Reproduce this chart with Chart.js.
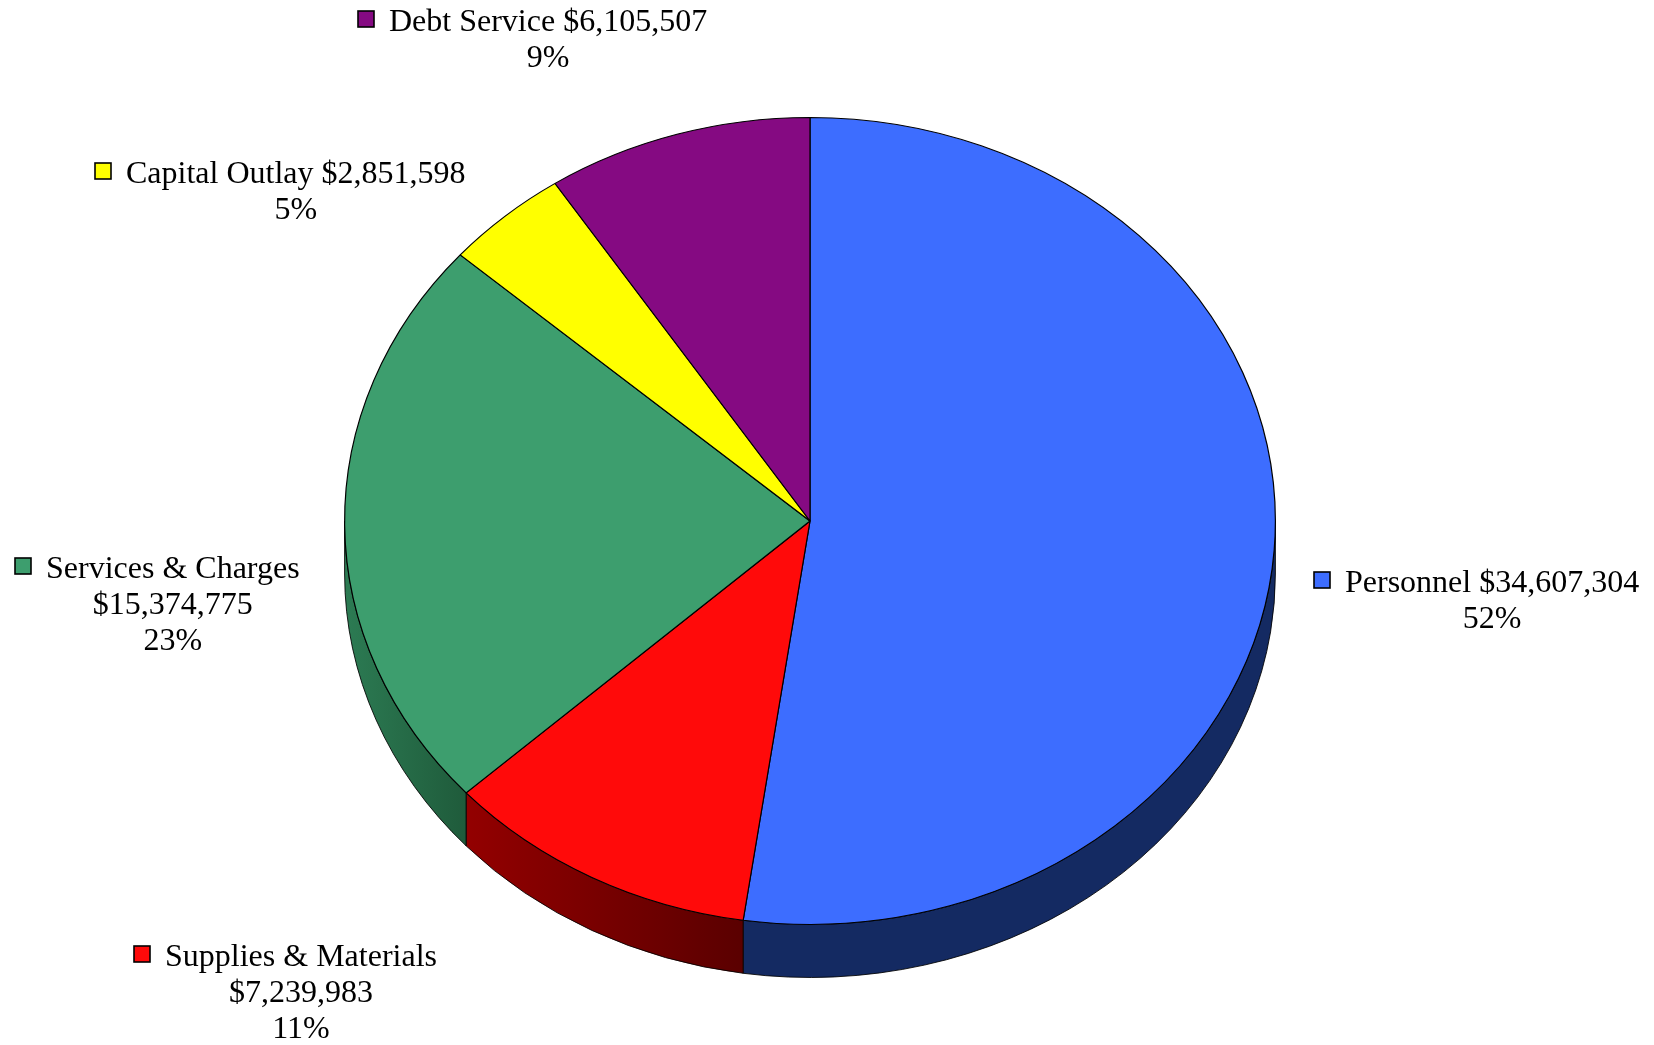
<!DOCTYPE html>
<html>
<head>
<meta charset="utf-8">
<script src="https://cdn.jsdelivr.net/npm/chart.js@4.4.1/dist/chart.umd.min.js"></script>
<style>
  html, body { margin: 0; padding: 0; background: #ffffff; }
  #wrap { width: 1654px; height: 1045px; position: relative; }
  canvas { display: block; }
</style>
</head>
<body>
<div id="wrap"><canvas id="c" width="1654" height="1045"></canvas></div>
<script>
// ---- data ----
const categories = ['Personnel', 'Supplies & Materials', 'Services & Charges', 'Capital Outlay', 'Debt Service'];
const amounts = [34607304, 7239983, 15374775, 2851598, 6105507];
const percentLabels = [52, 11, 23, 5, 9];

// ---- styles / layout ----
const topColors  = ['#3d6dff', '#ff0a0a', '#3d9e6e', '#ffff00', '#850a82'];
const sideLight  = ['#142a62', '#930000', '#2c7b53', '#a0a000', '#560656'];
const sideDark   = ['#142a62', '#5a0000', '#1f5b3b', '#808000', '#400440'];
const labelSquareX = [1314, 134, 15, 95, 358];
const labelBaseY   = [592, 966, 578, 183, 31];
const labelBreak   = [false, true, true, false, false];
const FONT_SIZE = 32;
const LINE_GAP = 36;
const Y_SCALE = 404 / 466;
const DEPTH = 53;

function fmtMoney(v) { return '$' + v.toLocaleString('en-US'); }

const pie3d = {
  id: 'pie3d',
  beforeDatasetsDraw(chart) {
    const ctx = chart.ctx;
    const meta = chart.getDatasetMeta(0);
    const arc0 = meta.data[0];
    const cx = arc0.x, cy = arc0.y, rx = arc0.outerRadius, ry = rx * Y_SCALE;
    // side walls (front half only)
    meta.data.forEach((arc, i) => {
      const a1 = Math.max(arc.startAngle, 0);
      const a2 = Math.min(arc.endAngle, Math.PI);
      if (a2 <= a1) return;
      const x1 = cx + rx * Math.cos(a1), x2 = cx + rx * Math.cos(a2);
      const xl = Math.min(x1, x2), xr = Math.max(x1, x2, xl + 1);
      const g = ctx.createLinearGradient(xl, 0, xr, 0);
      g.addColorStop(0, sideLight[i]);
      g.addColorStop(1, sideDark[i]);
      ctx.save();
      ctx.beginPath();
      ctx.ellipse(cx, cy, rx, ry, 0, a1, a2, false);
      ctx.lineTo(cx + rx * Math.cos(a2), cy + DEPTH + ry * Math.sin(a2));
      ctx.ellipse(cx, cy + DEPTH, rx, ry, 0, a2, a1, true);
      ctx.closePath();
      ctx.fillStyle = g;
      ctx.fill();
      ctx.lineWidth = 1;
      ctx.strokeStyle = 'rgba(0,0,0,0.85)';
      ctx.stroke();
      ctx.restore();
    });
    // squash the top face into an ellipse
    ctx.save();
    ctx.translate(cx, cy);
    ctx.scale(1, Y_SCALE);
    ctx.translate(-cx, -cy);
  },
  afterDatasetsDraw(chart) {
    chart.ctx.restore();
  },
  afterDraw(chart) {
    const ctx = chart.ctx;
    ctx.save();
    ctx.font = FONT_SIZE + 'px "Liberation Serif", "Times New Roman", serif';
    ctx.fillStyle = '#000';
    ctx.textBaseline = 'alphabetic';
    categories.forEach((name, i) => {
      const sx = labelSquareX[i];
      const by = labelBaseY[i];
      // legend key square
      ctx.fillStyle = topColors[i];
      ctx.fillRect(sx, by - 20, 16, 16);
      ctx.lineWidth = 1.6;
      ctx.strokeStyle = '#000';
      ctx.strokeRect(sx, by - 20, 16, 16);
      const lines = labelBreak[i]
        ? [name, fmtMoney(amounts[i]), percentLabels[i] + '%']
        : [name + ' ' + fmtMoney(amounts[i]), percentLabels[i] + '%'];
      const tx = sx + 31;
      const w0 = ctx.measureText(lines[0]).width;
      const centerX = tx + w0 / 2;
      ctx.fillStyle = '#000';
      ctx.textAlign = 'left';
      ctx.fillText(lines[0], tx, by);
      ctx.textAlign = 'center';
      for (let k = 1; k < lines.length; k++) {
        ctx.fillText(lines[k], centerX, by + LINE_GAP * k);
      }
    });
    ctx.restore();
  }
};

new Chart(document.getElementById('c'), {
  type: 'pie',
  data: {
    labels: categories,
    datasets: [{
      data: amounts,
      backgroundColor: topColors,
      borderColor: '#000',
      borderWidth: 1.2
    }]
  },
  options: {
    responsive: false,
    animation: false,
    events: [],
    layout: { padding: { left: 344, right: 378, top: 55, bottom: 58 } },
    plugins: {
      legend: { display: false },
      tooltip: { enabled: false },
      title: { display: false }
    }
  },
  plugins: [pie3d]
});
</script>
</body>
</html>
